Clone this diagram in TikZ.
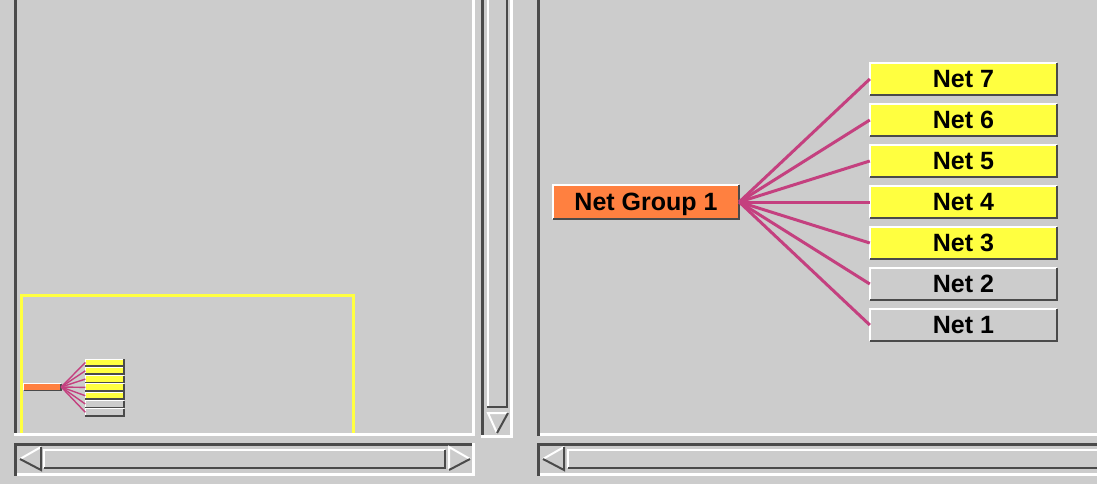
\documentclass[tikz,border=0pt]{standalone}
\usepackage{fontspec}
\setmainfont{Liberation Sans}
\definecolor{winbg}{HTML}{CCCCCC}
\definecolor{bevdark}{HTML}{4A4A4A}
\definecolor{netyel}{HTML}{FFFF40}
\definecolor{grporg}{HTML}{FF8040}
\definecolor{wire}{HTML}{C4407F}
\tikzset{
  lite/.style={white, line width=3pt},
  dark/.style={bevdark, line width=3pt},
  netbox/.style={fill=netyel, minimum width=187pt, minimum height=32pt, inner sep=0pt,
    font=\bfseries\fontsize{25}{29}\selectfont, text height=17.5pt, text depth=0pt},
  grpbox/.style={netbox, fill=grporg, minimum width=186pt, minimum height=34pt},
  mininet/.style={fill=netyel, minimum width=38pt, minimum height=6.5pt, inner sep=0pt},
  minigrp/.style={mininet, fill=grporg, minimum width=37pt},
  link/.style={wire, line width=3pt},
  minilink/.style={wire, line width=1.4pt},
}
\begin{document}
\begin{tikzpicture}[x=1pt, y=-1pt]
  \useasboundingbox (0,0) rectangle (1097,484);
  \fill[winbg] (0,0) rectangle (1097,484);
  % left view
  \draw[dark] (15.5,0) -- (15.5,434);
  \draw[lite] (14,434.5) -- (473.5,434.5) -- (473.5,0);
  \draw[netyel, line width=3pt] (21.5,433) -- (21.5,295.5) -- (353.5,295.5) -- (353.5,433);
  % vertical scrollbar
  \draw[dark] (482,0) -- (482,437);
  \draw[lite] (480.5,436.5) -- (511.5,436.5) -- (511.5,0);
  \draw[lite, line width=2pt] (488,0) -- (488,407);
  \draw[dark, line width=2pt] (487,406.5) -- (506.5,406.5) -- (506.5,0);
  \draw[lite, line width=2pt] (497,433) -- (488,413) -- (508,413);
  \draw[dark, line width=2pt] (508,413) -- (497,433);
  % left horizontal scrollbar
  \draw[dark] (14,444.5) -- (475,444.5);
  \draw[dark] (15.5,443) -- (15.5,476);
  \draw[lite] (17,474.5) -- (475,474.5);
  \draw[lite] (473.5,443) -- (473.5,476);
  \draw[lite, line width=2pt] (41,447) -- (20,459);
  \draw[dark, line width=2pt] (20,459) -- (41,470) -- (41,447);
  \draw[lite, line width=2pt] (44,468) -- (44,450) -- (445,450);
  \draw[dark, line width=2pt] (44,468) -- (445,468) -- (445,450);
  \draw[lite, line width=2pt] (449,470) -- (449,447) -- (470,459);
  \draw[dark, line width=2pt] (470,459) -- (449,470);
  % right view
  \draw[dark] (538.5,0) -- (538.5,436);
  \draw[lite] (540,434.5) -- (1097,434.5);
  \draw[dark] (537,444.5) -- (1097,444.5);
  \draw[dark] (538.5,443) -- (538.5,476);
  \draw[lite] (540,474.5) -- (1097,474.5);
  \draw[lite, line width=2pt] (564,447) -- (543,459);
  \draw[dark, line width=2pt] (543,459) -- (564,470) -- (564,447);
  \draw[lite, line width=2pt] (568,468) -- (568,450) -- (1097,450);
  \draw[dark, line width=2pt] (568,468) -- (1097,468);
  % nets
  \node[grpbox] (g) at (646,202) {Net Group 1};
  \node[minigrp] (mg) at (42.5,387) {};
  \foreach \k/\c in {7/netyel,6/netyel,5/netyel,4/netyel,3/netyel,2/winbg,1/winbg}{
    \node[netbox, fill=\c] (n\k) at (963.5,{79+41*(7-\k)}) {Net \k};
    \node[mininet, fill=\c] (m\k) at (104.5,{362.5+8.3*(7-\k)}) {};
  }
  \foreach \n in {g,n1,n2,n3,n4,n5,n6,n7}{
    \draw[lite, line width=2.5pt] (\n.south west) -- (\n.north west) -- (\n.north east);
    \draw[dark, line width=2.5pt] (\n.south west) -- (\n.south east) -- (\n.north east);
  }
  \foreach \n in {mg,m1,m2,m3,m4,m5,m6,m7}{
    \draw[lite, line width=1pt] (\n.south west) -- (\n.north west) -- (\n.north east);
    \draw[dark, line width=1.8pt] (\n.south west) -- (\n.south east) -- (\n.north east);
  }
  \foreach \k in {1,...,7}{
    \draw[link] (g.east) -- (n\k.west);
    \draw[minilink] (mg.east) -- (m\k.west);
  }
\end{tikzpicture}
\end{document}
